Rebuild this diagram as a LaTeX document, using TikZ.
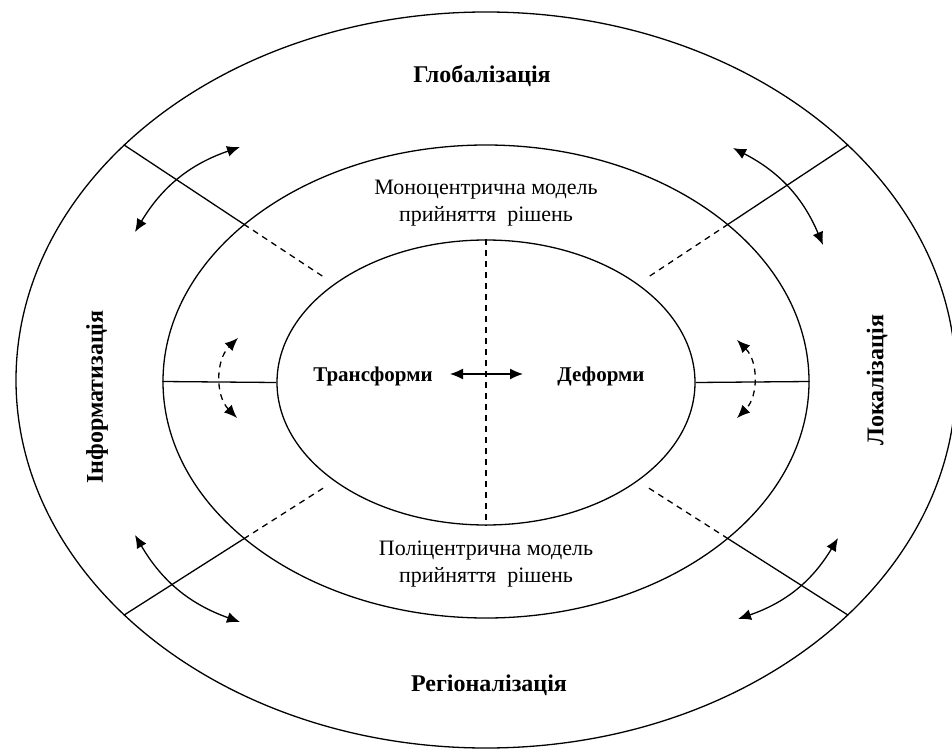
\documentclass[tikz,border=0pt]{standalone}
\usepackage{fontspec}
\setmainfont{Liberation Serif}
\usetikzlibrary{shapes.geometric,arrows.meta}

\begin{document}
\begin{tikzpicture}[x=1pt,y=-1pt,line width=1.3pt,>={Latex[length=13pt,width=11pt]},
        ring/.style={draw,ellipse,inner sep=0pt},
        big/.style={font=\fontsize{24}{28}\selectfont\bfseries},
        mid/.style={font=\fontsize{21}{25}\selectfont\bfseries},
        model/.style={font=\fontsize{22}{27}\selectfont,align=center},
        dashline/.style={dash pattern=on 6pt off 5pt}]
        \useasboundingbox (0,0) rectangle (952,751);

        \node[ring,minimum width=940pt,minimum height=736pt] (outer) at (486,380) {};
        \node[ring,minimum width=646pt,minimum height=473pt] (middle) at (486,381.5) {};
        \node[ring,minimum width=418pt,minimum height=285pt] (inner) at (486,382.5) {};

        \foreach \a in {33,147,213,327}
        {
            \draw (outer.\a) -- (middle.\a);
            \draw[dashline,shorten >=10pt] (middle.\a) -- (inner.\a);
        }
        \draw (middle.west) -- (inner.west);
        \draw (inner.east) -- (middle.east);
        \draw[dashline] (inner.north) -- (inner.south);

        \node[big] (glob) at (482,76) {Глобалізація};
        \node[big] (reg) at (489,685) {Регіоналізація};
        \node[big,rotate=90] (inf) at (97,397) {Інформатизація};
        \node[big,rotate=90] (loc) at (877,380) {Локалізація};
        \node[model] (mono) at (486,203) {Моноцентрична модель\\прийняття\ \ рішень};
        \node[model] (poly) at (486,564) {Поліцентрична модель\\прийняття\ \ рішень};
        \node[mid] (trans) at (373,376) {Трансформи};
        \node[mid] (deform) at (601,376) {Деформи};

        \coordinate (c1) at (450,374);
        \coordinate (c2) at (523,374);
        \draw[<->] (c1) -- (c2);

        \foreach \n/\xa/\ya/\xb/\yb in {tl/135/232/240/147, tr/733/148/823/245, br/838/538/738/619, bl/240/622/135/535}
        {
            \coordinate (\n1) at (\xa,\ya);
            \coordinate (\n2) at (\xb,\yb);
            \draw[<->] (\n1) to [bend left=20] (\n2);
        }

        \coordinate (l1) at (237,418);
        \coordinate (l2) at (238,338);
        \coordinate (r1) at (737,340);
        \coordinate (r2) at (737,418);
        \draw[<->,dashline] (l1) to [bend left=45] (l2);
        \draw[<->,dashline] (r1) to [bend left=45] (r2);
\end{tikzpicture}
\end{document}
